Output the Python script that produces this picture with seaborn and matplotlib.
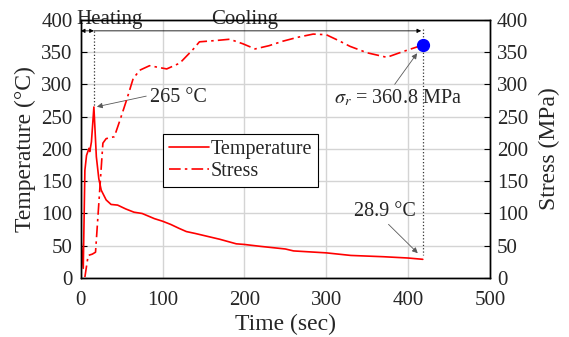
import matplotlib
matplotlib.use("Agg")
import matplotlib.pyplot as plt
import seaborn as sns

# temperature history (solid line)
time_temp = [0.5, 3, 5, 7, 10, 11, 13, 16, 19, 22, 25, 31, 37, 45, 55, 65, 75, 90,
             100, 110, 120, 129, 140, 150, 170, 190, 200, 220, 250, 260, 300, 330,
             370, 400, 418]
temp = [55, 15, 167, 190, 201, 196, 211, 265, 188, 154, 136, 121, 114, 113, 107, 102,
        100, 92, 88, 83, 77, 72, 69, 66, 60, 53, 52, 49, 45, 42, 39, 35, 33, 31, 29]

# residual stress history (dash-dot line)
time_stress = [5, 9, 14, 18, 27, 31, 41, 48, 56, 64, 72, 84, 105, 121, 137, 145, 165,
               182, 198, 213, 230, 247, 265, 284, 300, 315, 329, 350, 374, 394, 418]
stress = [1.5, 35, 37, 40, 209, 216, 219, 245, 276, 309, 322, 329, 324, 333, 354, 366,
          368, 370, 363, 355, 360, 367, 373, 378, 377, 368, 359, 349, 342, 351, 361]

final_time = 418
final_stress = 360.8
peak_time, peak_temp = 16, 265
end_temp = 28.9

sns.set_style("white")
plt.rcParams["font.family"] = ["Liberation Serif", "DejaVu Serif"]
plt.rcParams["mathtext.fontset"] = "stix"

fig, ax = plt.subplots(figsize=(5.69, 3.37), dpi=100)
fig.subplots_adjust(left=0.142, right=0.861, bottom=0.175, top=0.941)
ax2 = ax.twinx()

sns.lineplot(x=time_temp, y=temp, ax=ax, color="red", lw=1.2, label="Temperature",
             legend=False)
sns.lineplot(x=time_stress, y=stress, ax=ax2, color="red", lw=1.2, label="Stress",
             linestyle=(0, (7, 2.5, 1.5, 2.5)), legend=False)
ax2.plot([final_time], [final_stress], "o", color="blue", ms=8.5, zorder=5)

for a in (ax, ax2):
    a.set_xlim(0, 500)
    a.set_ylim(0, 400)
    a.set_yticks(range(0, 401, 50))
    for s in a.spines.values():
        s.set_color("black")
        s.set_linewidth(1.0)
ax.set_xticks(range(0, 501, 100))
ax.grid(True, color="#d4d4d4", lw=1.0)
ax.tick_params(direction="in", length=4, labelsize=15, pad=6, color="black")
ax.tick_params(axis="x", pad=9)
ax2.tick_params(direction="in", length=4, labelsize=15, pad=5, color="black")

ax.set_xlabel("Time (sec)", fontsize=17, labelpad=3)
ax.set_ylabel("Temperature (°C)", fontsize=17, labelpad=4)
ax2.set_ylabel("Stress (MPa)", fontsize=17, labelpad=8)

# phase arrows
arrow_y = 383
ax.annotate("", xy=(0, arrow_y), xytext=(peak_time, arrow_y),
            arrowprops=dict(arrowstyle="<|-|>", color="black", lw=0.6,
                            mutation_scale=6, shrinkA=0, shrinkB=0))
ax.annotate("", xy=(final_time - 2, arrow_y), xytext=(peak_time, arrow_y),
            arrowprops=dict(arrowstyle="-|>", color="black", lw=0.6,
                            mutation_scale=6, shrinkA=0, shrinkB=0))
ax.text(35, 401, "Heating", fontsize=15, ha="center", va="center")
ax.text(200, 401, "Cooling", fontsize=15, ha="center", va="center")

# dotted guides
ax.plot([peak_time, peak_time], [arrow_y, peak_temp], ls=":", color="0.2", lw=0.9)
ax.plot([final_time, final_time], [arrow_y + 3, 35], ls=":", color="0.2", lw=0.9)

# callouts
arr = dict(arrowstyle="-|>", color="0.35", lw=0.6, mutation_scale=8, shrinkA=0,
           shrinkB=1)
ax.annotate("265 °C", xy=(peak_time + 2, peak_temp), xytext=(84, 280), fontsize=14.5,
            ha="left", va="center", arrowprops=dict(arr, relpos=(0, 0.6)))
ax.annotate(r"$\sigma_r$ = 360.8 MPa", xy=(412, 350), xytext=(387, 279),
            fontsize=14.5, ha="center", va="center",
            arrowprops=dict(arr, relpos=(0.46, 1)))
ax.annotate("28.9 °C", xy=(413, 37), xytext=(372, 103), fontsize=14.5,
            ha="center", va="center", arrowprops=dict(arr, relpos=(0.5, 0)))

h1, l1 = ax.get_legend_handles_labels()
h2, l2 = ax2.get_legend_handles_labels()
leg = ax2.legend(h1 + h2, l1 + l2, loc="upper left", bbox_to_anchor=(0.2, 0.558),
                 borderaxespad=0, fontsize=14.5, fancybox=False, framealpha=1,
                 edgecolor="black", handlelength=2.0, handletextpad=0.1,
                 labelspacing=0.15, borderpad=0.3)
leg.get_frame().set_linewidth(0.8)

fig.savefig("out.png", dpi=100)
